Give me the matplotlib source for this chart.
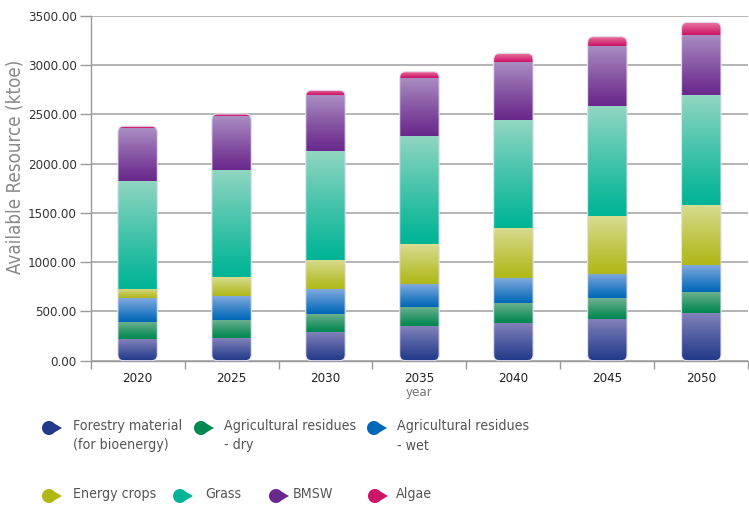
import matplotlib
matplotlib.use("Agg")
import matplotlib.pyplot as plt
import numpy as np
from matplotlib.patches import FancyBboxPatch, Polygon
from matplotlib.colors import to_rgb

plt.rcParams['font.family'] = ['DejaVu Sans']
plt.rcParams['font.stretch'] = 'condensed'

years = ['2020', '2025', '2030', '2035', '2040', '2045', '2050']
forestry = [220, 227, 294, 352, 382, 426, 481]
ag_dry = [176, 189, 183, 196, 203, 210, 219]
ag_wet = [237, 240, 250, 230, 251, 247, 268]
energy_crops = [94, 190, 298, 403, 513, 588, 612]
grass = [1099, 1089, 1099, 1099, 1090, 1110, 1115]
bmsw = [531, 547, 568, 591, 595, 609, 609]
algae = [22, 21, 51, 61, 84, 97, 129]

series = [forestry, ag_dry, ag_wet, energy_crops, grass, bmsw, algae]
labels = ['Forestry material\n(for bioenergy)', 'Agricultural residues\n- dry',
          'Agricultural residues\n- wet', 'Energy crops', 'Grass', 'BMSW', 'Algae']
dark = ['#223a8a', '#008850', '#0068b8', '#b0b818', '#00b496', '#6a288c', '#cc1466']
light = ['#8282ba', '#72b292', '#82aade', '#d8dc92', '#92d6c2', '#aa8ec2', '#ea7ca2']

fig = plt.figure(figsize=(7.49, 5.13), dpi=100)
ax = fig.add_axes([0.121, 0.2969, 0.878, 0.6725])

x = np.arange(len(years))
width = 0.42
ymax = 3500
bottom = np.zeros(len(years))
rects = []
for vals in series:
    bars = ax.bar(x, vals, width, bottom=bottom, visible=False)
    rects.append(bars)
    bottom = bottom + np.array(vals)
totals = bottom

# rounded outline of each stack, used to clip the gradient segments
px_x = 658 / 7.0
px_y = 345 / ymax
asp = (1 / px_y) / (1 / px_x)
rad = 6 / px_x
shapes = []
for i in range(len(years)):
    p = FancyBboxPatch((x[i] - width / 2, 0), width, totals[i],
                       boxstyle=f"round,pad=0,rounding_size={rad}",
                       mutation_aspect=asp, facecolor='none',
                       edgecolor='#e4dcf0', lw=0.8, zorder=4)
    ax.add_patch(p)
    shapes.append(p)

n = 100
frac = np.linspace(0, 1, n) ** 1.1
for k, bars in enumerate(rects):
    c0 = np.array(to_rgb(dark[k]))
    c1 = np.array(to_rgb(light[k]))
    grad = (c0[None, :] + (c1 - c0)[None, :] * frac[:, None])[:, None, :]
    for i, r in enumerate(bars):
        if r.get_height() <= 0:
            continue
        im = ax.imshow(grad, extent=(r.get_x(), r.get_x() + r.get_width(),
                                     r.get_y(), r.get_y() + r.get_height()),
                       origin='lower', aspect='auto', interpolation='bilinear', zorder=3)
        im.set_clip_path(shapes[i])

ax.set_xlim(-0.5, len(years) - 0.5)
ax.set_ylim(0, ymax)
ax.set_yticks(np.arange(0, 3501, 500))
ax.set_yticklabels([f'{v:.2f}' for v in np.arange(0, 3501, 500)])
ax.set_xticks(x)
ax.set_xticklabels(years)
ax.set_xticks(np.arange(-0.5, len(years), 1), minor=True)
ax.tick_params(axis='x', which='major', length=0, labelsize=9.5, colors='#222222', pad=8)
ax.tick_params(axis='x', which='minor', length=6, color='#9a9a9a', width=1.0)
ax.tick_params(axis='y', length=8, color='#9a9a9a', width=1.0, labelsize=9.5,
               labelcolor='#333333', pad=2)
ax.yaxis.grid(True, color='#a8a8a8', lw=1.2)
ax.set_axisbelow(True)
for s in ['top', 'right']:
    ax.spines[s].set_visible(False)
for s in ['left', 'bottom']:
    ax.spines[s].set_color('#9a9a9a')
    ax.spines[s].set_linewidth(1.0)
ax.set_ylabel('Available Resource (ktoe)', fontsize=13.5, color='#8a8a8a')
ax.yaxis.set_label_coords(-0.101, 0.561)
ax.set_xlabel('year', fontsize=9.5, color='#777777', labelpad=1)

# legend drawn in figure pixel space
lg = fig.add_axes([0, 0, 1, 1], facecolor='none')
lg.set_xlim(0, 749)
lg.set_ylim(513, 0)
lg.axis('off')
marker_x = [49, 201, 374, 49, 180, 276, 375]
marker_y = [428, 428, 428, 496, 496, 496, 496]
text_x = [73, 224, 397, 73, 205, 293, 396]
t = np.radians(np.linspace(40, 320, 40))
for k in range(len(labels)):
    cx, cy = marker_x[k], marker_y[k]
    rr = 7
    pts = np.column_stack([cx + rr * np.cos(t), cy + rr * np.sin(t)])
    pts = np.vstack([[cx + 1.85 * rr, cy], pts])
    lg.add_patch(Polygon(pts, closed=True, facecolor=dark[k], edgecolor='none'))
    lg.text(text_x[k], cy - 9, labels[k],
            fontsize=10.2, color='#555555', va='top', ha='left', linespacing=1.5)

fig.savefig('out.png', dpi=100)
